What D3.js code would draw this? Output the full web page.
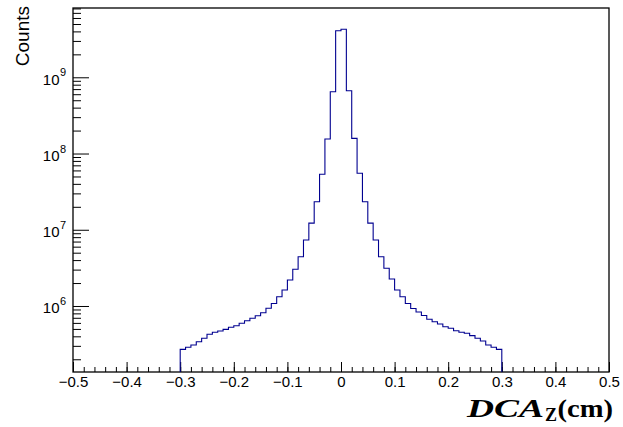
<!DOCTYPE html>
<html>
<head>
<meta charset="utf-8">
<script src="https://cdn.jsdelivr.net/npm/d3@7"></script>
<style>
  body { margin: 0; background: #fff; }
  svg { display: block; }
</style>
</head>
<body>
<div id="chart"></div>
<script>
// histogram: 60 bins of width 0.01 from -0.3 to 0.3
const binLow = -0.3;
const binWidth = 0.01;
const counts = [
  2.70e5, 2.87e5, 3.08e5, 3.40e5, 3.77e5, 4.25e5, 4.52e5, 4.70e5, 4.94e5, 5.25e5,
  5.51e5, 5.93e5, 6.41e5, 6.90e5, 7.46e5, 8.17e5, 9.33e5, 1.08e6, 1.32e6, 1.62e6,
  2.19e6, 3.03e6, 4.43e6, 7.34e6, 1.22e7, 2.33e7, 5.34e7, 1.55e8, 6.47e8, 4.08e9,
  4.27e9, 6.67e8, 1.58e8, 5.51e7, 2.33e7, 1.22e7, 7.34e6, 4.43e6, 3.12e6, 2.26e6,
  1.62e6, 1.32e6, 1.08e6, 9.27e5, 8.34e5, 7.50e5, 6.69e5, 6.22e5, 5.81e5, 5.35e5,
  5.10e5, 4.74e5, 4.52e5, 4.39e5, 4.08e5, 3.77e5, 3.47e5, 3.08e5, 2.87e5, 2.70e5
];
const xTicks = [-0.5, -0.4, -0.3, -0.2, -0.1, 0, 0.1, 0.2, 0.3, 0.4, 0.5];
const yDecades = [6, 7, 8, 9];
const xDomain = [-0.5, 0.5];
const yDomain = [Math.pow(10, 5.134), Math.pow(10, 9.909)];

const width = 623, height = 427;
const frame = {left: 73, right: 609, top: 8, bottom: 372};
const sans = "'Liberation Sans', Arial, sans-serif";
const serif = "'Liberation Serif', 'Times New Roman', serif";

const svg = d3.select("#chart").append("svg")
  .attr("width", width)
  .attr("height", height);

const x = d3.scaleLinear().domain(xDomain).range([frame.left, frame.right]);
const y = d3.scaleLog().domain(yDomain).range([frame.bottom, frame.top]);

// frame
svg.append("rect")
  .attr("x", frame.left).attr("y", frame.top)
  .attr("width", frame.right - frame.left)
  .attr("height", frame.bottom - frame.top)
  .attr("fill", "none")
  .attr("stroke", "#000")
  .attr("stroke-width", 1.3);

// x axis: minor ticks every 0.02, major every 0.1
const xMinor = d3.range(0, 51).map(i => xDomain[0] + i * 0.02);
svg.append("g")
  .attr("transform", `translate(0,${frame.bottom})`)
  .call(d3.axisBottom(x).tickValues(xMinor).tickSizeInner(-5).tickSizeOuter(0).tickFormat(""))
  .call(g => g.select(".domain").remove());

const fmt = d3.format(".1f");
svg.append("g")
  .attr("transform", `translate(0,${frame.bottom})`)
  .call(d3.axisBottom(x).tickValues(xTicks).tickSizeInner(-10).tickSizeOuter(0).tickPadding(4)
    .tickFormat(d => d === 0 ? "0" : fmt(d)))
  .call(g => g.select(".domain").remove())
  .call(g => g.selectAll("text")
    .style("font-size", "15px")
    .style("font-family", sans)
    .attr("fill", "#000"));

// y axis: log ticks
const yMinor = [];
for (let e = 5; e <= 9; e++) {
  for (let m = 2; m <= 9; m++) {
    const v = m * Math.pow(10, e);
    if (v >= yDomain[0] && v <= yDomain[1]) yMinor.push(v);
  }
}
const yMajor = yDecades.map(e => Math.pow(10, e));

svg.append("g")
  .attr("transform", `translate(${frame.left},0)`)
  .call(d3.axisLeft(y).tickValues(yMinor).tickSizeInner(-8).tickSizeOuter(0).tickFormat(""))
  .call(g => g.select(".domain").remove());

svg.append("g")
  .attr("transform", `translate(${frame.left},0)`)
  .call(d3.axisLeft(y).tickValues(yMajor).tickSizeInner(-16).tickSizeOuter(0).tickFormat(""))
  .call(g => g.select(".domain").remove());

const yLab = svg.append("g")
  .style("font-family", sans)
  .selectAll("g")
  .data(yDecades)
  .enter().append("g")
  .attr("transform", e => `translate(59.5,${y(Math.pow(10, e))})`);
yLab.append("text")
  .attr("y", 7.5)
  .attr("text-anchor", "end")
  .style("font-size", "15px")
  .text("10");
yLab.append("text")
  .attr("x", 0.5)
  .attr("y", -1)
  .style("font-size", "11px")
  .text(e => e);

// histogram outline
const pts = [[x(binLow), frame.bottom]];
counts.forEach((c, i) => {
  const x0 = x(binLow + i * binWidth);
  const x1 = x(binLow + (i + 1) * binWidth);
  pts.push([x0, y(c)], [x1, y(c)]);
});
pts.push([x(binLow + counts.length * binWidth), frame.bottom]);

svg.append("path")
  .attr("d", d3.line()(pts))
  .attr("fill", "none")
  .attr("stroke", "#000090")
  .attr("stroke-width", 1.1);

// axis titles
svg.append("text")
  .attr("transform", "translate(29,6) rotate(-90)")
  .attr("text-anchor", "end")
  .style("font-family", sans)
  .style("font-size", "19px")
  .text("Counts");

const title = svg.append("g")
  .style("font-family", serif)
  .style("font-weight", "bold");
title.append("text")
  .attr("x", 467).attr("y", 416.5)
  .style("font-size", "25px")
  .style("font-style", "italic")
  .attr("textLength", 77)
  .attr("lengthAdjust", "spacingAndGlyphs")
  .text("DCA");
title.append("text")
  .attr("x", 545).attr("y", 421)
  .style("font-size", "18px")
  .text("Z");
title.append("text")
  .attr("x", 557.5).attr("y", 416.5)
  .style("font-size", "25px")
  .attr("textLength", 55.5)
  .attr("lengthAdjust", "spacingAndGlyphs")
  .text("(cm)");
</script>
</body>
</html>
